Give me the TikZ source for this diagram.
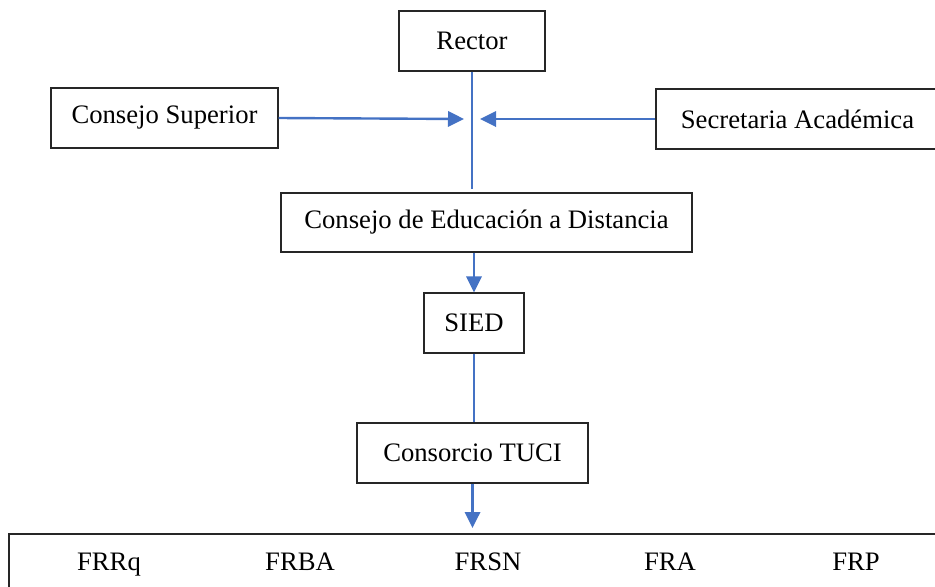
\documentclass[tikz,border=0pt]{standalone}
\usepackage{fontspec}
\setmainfont{Liberation Serif}
\usetikzlibrary{arrows.meta}
\definecolor{azul}{RGB}{68,114,196}

\begin{document}
\begin{tikzpicture}[x=0.75pt,y=0.75pt,yscale=-1,xscale=1,
  caja/.style={draw=black!85, line width=0.8pt, fill=white, inner sep=0pt,
    minimum height=45pt, font=\fontsize{20}{24}\selectfont},
  texto/.style={anchor=base, inner sep=0pt, font=\fontsize{20}{24}\selectfont},
  linea/.style={draw=azul, line width=1.8pt},
  flecha/.style={linea, -{Triangle[length=12pt,width=11.5pt]}}]
%set diagram window: 935 x 586
\clip (0,0) rectangle (935,586);

%Shape: Rectangle [Rector]
\node[caja, minimum width=109.5pt] (rector) at (472,41) {Rector};
%Shape: Rectangle [Consejo Superior]
\node[caja, minimum width=170.25pt] (consup) at (164.5,118) {Consejo Superior};
%Shape: Rectangle [Secretaria Academica]
\node[caja, minimum width=212.25pt] (secacad) at (797.5,119) {Secretaria Académica};
%Shape: Rectangle [Consejo de Educacion a Distancia]
\node[caja, minimum width=308.25pt, minimum height=44.25pt] (ced) at (486.5,222.5) {Consejo de Educación a Distancia};
%Shape: Rectangle [SIED]
\node[caja, minimum width=75pt] (sied) at (474,323) {SIED};
%Shape: Rectangle [Consorcio TUCI]
\node[caja, minimum width=173.25pt] (tuci) at (472.5,453) {Consorcio TUCI};
%Shape: Rectangle [Facultades]
\node[caja, minimum width=702pt, minimum height=49.5pt] (sedes) at (477,567) {};

% Text Node
\node[texto] (frrq) at (109,570) {FRRq};
% Text Node
\node[texto] (frba) at (300,570) {FRBA};
% Text Node
\node[texto] (frsn) at (488,570) {FRSN};
% Text Node
\node[texto] (fra) at (670,570) {FRA};
% Text Node
\node[texto] (frp) at (856,570) {FRP};

%Straight Lines
\coordinate (izq) at (464,119);
\coordinate (der) at (480,119);
\coordinate (abajo) at (472.5,528);
\coordinate (centro) at (472,189);
\draw[linea] (rector.south) -- (centro);
\draw[flecha] (consup.east) -- (izq);
\draw[flecha] (secacad.west) -- (der);
\draw[flecha] (sied.north |- ced.south) -- (sied.north);
\draw[linea] (sied.south) -- (sied.south |- tuci.north);
\draw[flecha] (tuci.south) -- (abajo);

\end{tikzpicture}
\end{document}
